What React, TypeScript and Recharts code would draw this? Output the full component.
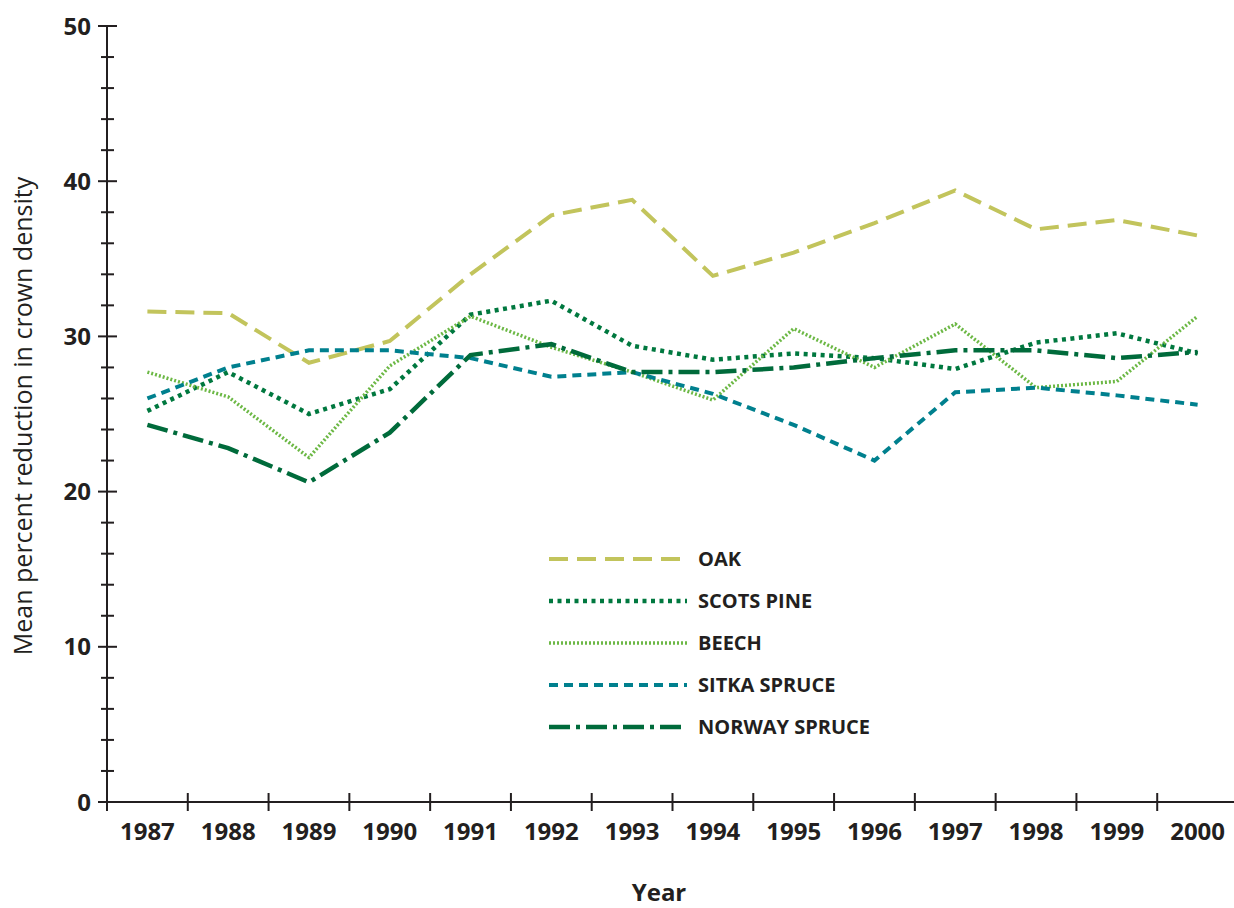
import { Legend, Line, LineChart, XAxis, YAxis } from "recharts";

const years = [
  "1987", "1988", "1989", "1990", "1991", "1992", "1993",
  "1994", "1995", "1996", "1997", "1998", "1999", "2000",
];

const oak = [31.6, 31.5, 28.3, 29.7, 34.0, 37.8, 38.8, 33.9, 35.4, 37.3, 39.4, 36.9, 37.5, 36.5];
const scotsPine = [25.2, 27.7, 25.0, 26.6, 31.4, 32.3, 29.4, 28.5, 28.9, 28.6, 27.9, 29.6, 30.2, 28.9];
const beech = [27.7, 26.1, 22.2, 28.1, 31.3, 29.3, 27.7, 25.9, 30.5, 28.0, 30.8, 26.7, 27.1, 31.3];
const sitkaSpruce = [26.0, 28.0, 29.1, 29.1, 28.6, 27.4, 27.7, 26.3, 24.3, 22.0, 26.4, 26.7, 26.2, 25.6];
const norwaySpruce = [24.3, 22.8, 20.6, 23.8, 28.8, 29.5, 27.7, 27.7, 28.0, 28.6, 29.1, 29.1, 28.6, 29.0];

const yTicks = [
  0, 2, 4, 6, 8, 10, 12, 14, 16, 18, 20, 22, 24, 26, 28, 30, 32, 34, 36, 38, 40,
  42, 44, 46, 48, 50,
];

type Series = {
  key: string;
  label: string;
  values: number[];
  color: string;
  dash: string;
  width: number;
};

const series: Series[] = [
  { key: "oak", label: "OAK", values: oak, color: "#c2c45c", dash: "19 9", width: 4 },
  { key: "scots", label: "SCOTS PINE", values: scotsPine, color: "#00783f", dash: "4 4.5", width: 4.5 },
  { key: "beech", label: "BEECH", values: beech, color: "#6cb845", dash: "2 2", width: 3.5 },
  { key: "sitka", label: "SITKA SPRUCE", values: sitkaSpruce, color: "#00808e", dash: "9 6", width: 4 },
  { key: "norway", label: "NORWAY SPRUCE", values: norwaySpruce, color: "#006b3b", dash: "21 6 4 6", width: 4.5 },
];

const data = years.map((year, i) => {
  const row: Record<string, string | number> = { year };
  for (const s of series) row[s.key] = s.values[i];
  return row;
});

const CHART_W = 1240;
const CHART_H = 908;
const LEFT = 107;
const RIGHT = 2;
const BAND = (CHART_W - LEFT - RIGHT) / years.length;
const INK = "#231f20";
const FONT = "'Open Sans', sans-serif";

function XTick(props: any) {
  const { x, y, payload } = props;
  const left = x - BAND / 2;
  return (
    <g>
      <line x1={left} x2={left} y1={y - 9} y2={y + 9} stroke={INK} strokeWidth={2} />
      <text
        x={x}
        y={y + 38}
        textAnchor="middle"
        fontFamily={FONT}
        fontWeight={700}
        fontSize={24}
        fill={INK}
      >
        {payload.value}
      </text>
    </g>
  );
}

function YTick(props: any) {
  const { x, y, payload } = props;
  const major = payload.value % 10 === 0;
  return (
    <g>
      <line
        x1={major ? x - 9 : x - 6}
        x2={major ? x + 10 : x + 7}
        y1={y}
        y2={y}
        stroke={INK}
        strokeWidth={2}
      />
      {major && (
        <text
          x={x - 16}
          y={y + 8.5}
          textAnchor="end"
          fontFamily={FONT}
          fontWeight={700}
          fontSize={24}
          fill={INK}
        >
          {payload.value}
        </text>
      )}
    </g>
  );
}

function YLabel(props: any) {
  const vb = props.viewBox ?? { x: 0, y: 26, width: LEFT, height: 776 };
  const cx = 32;
  const cy = vb.y + vb.height / 2 + 2;
  return (
    <text
      x={cx}
      y={cy}
      transform={`rotate(-90, ${cx}, ${cy})`}
      textAnchor="middle"
      fontFamily={FONT}
      fontSize={25}
      fill={INK}
    >
      Mean percent reduction in crown density
    </text>
  );
}

function XLabel(props: any) {
  const vb = props.viewBox ?? { x: LEFT, y: 802, width: 1131, height: 106 };
  return (
    <text
      x={659}
      y={vb.y + 99}
      textAnchor="middle"
      fontFamily={FONT}
      fontWeight={700}
      fontSize={24}
      fill={INK}
    >
      Year
    </text>
  );
}

function LegendBox() {
  return (
    <div style={{ fontFamily: FONT }}>
      {series.map((s) => (
        <div key={s.key} style={{ display: "flex", alignItems: "center", height: 42 }}>
          <svg width={150} height={10} style={{ display: "block" }}>
            <line
              x1={1}
              x2={139}
              y1={5}
              y2={5}
              stroke={s.color}
              strokeWidth={s.width}
              strokeDasharray={s.dash}
            />
          </svg>
          <span style={{ fontWeight: 700, fontSize: 20, color: INK, lineHeight: "20px" }}>
            {s.label}
          </span>
        </div>
      ))}
    </div>
  );
}

export default function App() {
  return (
    <div
      style={{
        position: "absolute",
        left: 0,
        top: 0,
        width: 1234,
        height: 908,
        overflow: "hidden",
        background: "#fff",
      }}
    >
      <LineChart
        width={CHART_W}
        height={CHART_H}
        data={data}
        margin={{ top: 26, right: RIGHT, left: 0, bottom: 0 }}
      >
        <XAxis
          dataKey="year"
          scale="band"
          interval={0}
          height={106}
          tickSize={0}
          tickMargin={0}
          tickLine={false}
          tick={<XTick />}
          axisLine={{ stroke: INK, strokeWidth: 2 }}
          label={<XLabel />}
        />
        <YAxis
          domain={[0, 50]}
          ticks={yTicks}
          interval={0}
          width={LEFT}
          tickSize={0}
          tickMargin={0}
          tickLine={false}
          tick={<YTick />}
          axisLine={{ stroke: INK, strokeWidth: 2 }}
          label={<YLabel />}
        />
        <Legend
          layout="vertical"
          align="center"
          verticalAlign="middle"
          wrapperStyle={{ left: 548, top: 538, width: 400 }}
          content={() => <LegendBox />}
        />
        {series.map((s) => (
          <Line
            key={s.key}
            type="linear"
            dataKey={s.key}
            name={s.label}
            stroke={s.color}
            strokeWidth={s.width}
            strokeDasharray={s.dash}
            dot={false}
            activeDot={false}
            isAnimationActive={false}
          />
        ))}
      </LineChart>
    </div>
  );
}
